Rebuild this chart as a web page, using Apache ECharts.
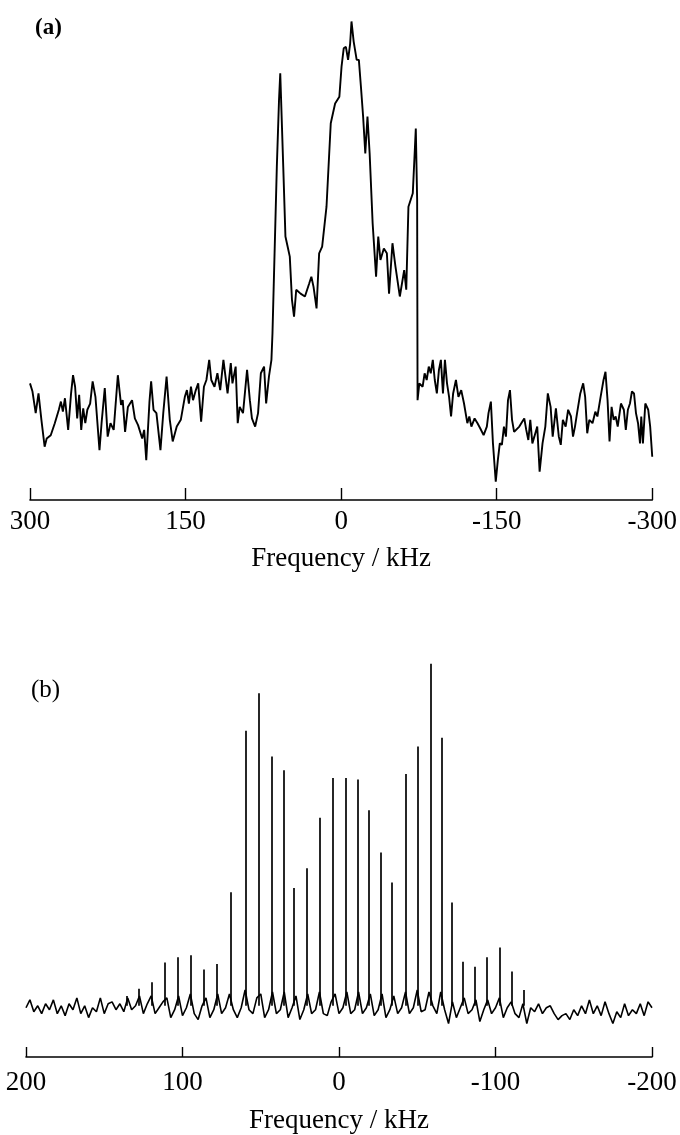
<!DOCTYPE html>
<html>
<head>
<meta charset="utf-8">
<script src="https://cdn.jsdelivr.net/npm/echarts/dist/echarts.min.js"></script>
<style>
  html, body { margin: 0; padding: 0; background: #fff; }
  #chart { width: 680px; height: 1135px; }
</style>
</head>
<body>
<div id="chart"></div>
<script>
// (a) static spectrum: frequency (kHz) and intensity (0 = axis line, 100 = top)
var freqA = [300.0, 297.6, 294.5, 291.8, 289.0, 285.9, 283.9, 280.0, 276.1, 272.2,
    270.2, 268.3, 266.3, 263.2, 260.4, 258.5, 256.5, 254.5, 252.6, 250.6,
    248.7, 246.7, 244.7, 242.0, 239.6, 236.9, 233.0, 231.0, 227.9, 225.1,
    222.4, 219.3, 215.3, 212.2, 210.6, 208.3, 205.6, 201.6, 198.9, 195.8,
    191.8, 189.9, 187.9, 184.8, 183.2, 180.9, 178.1, 174.2, 171.5, 168.3,
    165.2, 162.4, 158.5, 154.6, 150.7, 148.7, 146.8, 144.8, 142.8, 140.1,
    137.8, 135.0, 132.3, 129.9, 127.2, 125.2, 122.1, 119.3, 116.6, 113.5,
    111.5, 109.5, 106.4, 104.8, 101.7, 99.7, 97.8, 94.6, 90.7, 88.0,
    86.0, 82.9, 80.1, 77.4, 74.3, 72.3, 69.6, 67.2,
    66.2, 62.0, 59.9, 58.7, 55.8, 53.7, 51.6, 49.5, 47.4, 45.4,
    43.3, 39.1, 34.9, 30.8, 28.7, 26.6, 23.7, 21.2, 18.3, 14.1,
    10.0, 5.8, 1.7, -0.4, -2.5, -4.6, -6.7, -8.7, -10.0, -12.1,
    -15.0, -17.1, -19.1, -21.2, -23.3, -25.4, -27.5, -30.4, -33.7, -35.8,
    -37.9, -41.2, -44.1, -46.2, -49.5, -52.4, -56.6, -60.8, -62.8, -64.9,
    -69.1, -71.2, -72.0, -73.3, -73.7,
    -75.4, -78.6, -80.5, -82.5, -84.5, -86.4, -88.4, -90.3, -92.3, -94.3,
    -96.2, -98.2, -100.1, -102.1, -104.1, -106.0, -108.0, -110.7, -113.1, -115.8,
    -118.5, -121.7, -123.6, -125.6, -128.7, -131.5, -134.2, -137.4, -140.5, -142.1,
    -144.4, -146.4, -149.1, -151.1, -153.0, -155.0, -157.0, -158.9, -160.9, -162.8,
    -164.8, -166.8, -168.7, -171.8, -174.6, -176.6, -178.5, -180.5, -182.4, -184.4,
    -186.3, -189.1, -191.4, -194.2, -196.9, -199.3, -202.0, -204.0, -207.1, -209.9,
    -211.8, -213.8, -216.5, -218.9, -221.6, -223.6, -225.5, -227.5, -230.6, -233.4,
    -235.3, -237.3, -239.3, -242.4, -245.1, -247.1, -250.2, -253.0, -254.9, -256.9,
    -258.8, -260.8, -262.8, -264.7, -266.7, -269.8, -272.6, -274.5, -276.5, -278.5,
    -280.4, -282.4, -284.3, -286.3, -288.2, -289.4, -291.0, -293.3, -296.1, -298.0,
    -300.0];
var intA = [24.3, 22.6, 18.1, 22.2, 16.7, 11.1, 12.8, 13.5, 16.0, 18.8,
    20.5, 18.4, 21.2, 14.6, 22.2, 26.0, 23.6, 17.0, 21.9, 14.6,
    19.1, 16.0, 18.8, 20.1, 24.7, 21.5, 10.4, 16.0, 23.3, 13.2,
    16.0, 14.6, 26.0, 19.8, 20.8, 14.2, 19.4, 20.8, 17.0, 15.6,
    12.8, 14.6, 8.3, 20.5, 24.7, 18.8, 18.1, 10.4, 18.1, 25.7,
    16.7, 12.2, 15.3, 16.7, 21.5, 22.9, 20.1, 23.6, 20.8, 22.9,
    24.3, 16.3, 23.6, 25.0, 29.2, 25.0, 23.6, 26.4, 22.9, 29.2,
    25.7, 22.2, 28.5, 24.3, 27.8, 16.0, 19.4, 18.1, 27.1, 20.8,
    17.0, 15.3, 18.1, 26.4, 27.8, 20.1, 25.7, 29.2,
    34.7, 69.4, 83.3, 88.9, 69.4, 54.9, 52.8, 50.7, 41.7, 38.2,
    43.8, 43.0, 42.4, 45.1, 46.5, 44.4, 39.9, 51.4, 52.8, 61.1,
    78.5, 82.6, 84.0, 90.3, 94.1, 94.4, 91.7, 95.1, 99.7, 95.5,
    91.7, 91.7, 86.1, 79.9, 72.2, 79.9, 72.2, 57.6, 46.5, 54.9,
    50.0, 52.4, 51.4, 43.0, 53.5, 48.6, 42.4, 47.9, 43.8, 61.1,
    63.9, 73.6, 77.4, 62.5, 20.8,
    24.3, 23.6, 26.4, 25.0, 27.8, 26.4, 29.2, 25.0, 22.2, 27.1,
    29.2, 22.2, 29.2, 24.3, 21.5, 17.4, 22.2, 25.0, 21.5, 22.9,
    20.1, 16.0, 17.4, 15.3, 17.0, 16.0, 14.9, 13.5, 15.3, 18.1,
    20.5, 11.8, 3.8, 8.3, 11.8, 11.5, 15.3, 13.2, 20.8, 22.9,
    16.7, 14.2, 14.6, 15.3, 16.3, 17.0, 14.6, 12.5, 16.7, 11.8,
    13.2, 15.3, 5.9, 11.8, 15.3, 22.2, 19.4, 13.2, 19.1, 13.2,
    11.5, 16.7, 15.3, 18.8, 17.4, 13.2, 15.3, 18.1, 22.2, 24.3,
    21.5, 13.9, 16.7, 16.0, 18.4, 17.4, 21.5, 25.0, 26.7, 20.8,
    12.2, 19.4, 16.7, 17.4, 15.3, 20.1, 18.8, 14.6, 18.8, 20.1,
    22.6, 22.2, 18.1, 16.0, 11.8, 17.4, 11.8, 20.1, 18.8, 15.3,
    9.0];

// (b) MAS spectrum: baseline noise sampled every 2.5 kHz from +200 kHz
var noiseStartB = 200, noiseStepB = 2.5;
var noiseB = [12.5, 14.5, 11.5, 13, 11, 13.5, 12, 14.5, 11, 13,
    10.5, 13.5, 12, 15, 11, 13, 10, 12.5, 11.5, 15,
    11, 13.5, 14, 12, 13.5, 11.5, 15, 12, 13, 15.5,
    11, 13.5, 15.5, 11, 12.5, 14, 15, 10, 12, 15.5,
    10.5, 12.5, 16, 11, 9.5, 13, 15, 10, 12, 16,
    11, 12.5, 16, 12, 10, 12.5, 17, 12, 11, 15,
    16, 10, 12, 16.5, 11, 12, 16.5, 10, 12.5, 15.5,
    9.5, 12, 16, 11, 12, 16.5, 11, 10.5, 14, 16,
    11, 12.5, 16.5, 11, 12, 16.5, 11, 12.5, 16, 10.5,
    12, 16, 10, 12, 15.5, 11, 12.5, 16.5, 11, 12.5,
    17, 11.5, 12, 16.5, 13, 11, 16.5, 12, 8.5, 14,
    10, 12.5, 15, 11, 12, 14.5, 9, 12, 14.5, 11,
    12.5, 15, 10, 12.5, 14, 11, 10, 13.5, 8.5, 12.5,
    11.5, 13.5, 11, 12.5, 13, 11, 9.5, 10.5, 11, 9.5,
    12, 10.5, 13, 11, 14.5, 11, 13, 10.5, 14, 11,
    8.5, 11.5, 10, 13.5, 10.5, 12, 11, 13.5, 10.5, 14,
    12.5];
// spinning sidebands: position (kHz) and peak height
var peakFreqB = [135.5, 127.8, 119.5, 111.2, 102.8, 94.5, 86.4, 77.9, 69.0, 59.4,
    51.4, 43.1, 35.5, 28.7, 20.6, 12.1, 3.8, -4.3, -12.1, -19.1,
    -26.6, -34.0, -42.5, -50.1, -58.4, -65.8, -71.8, -79.2, -86.6, -94.5,
    -102.5, -110.4, -118.0];
var peakHeightB = [15.5, 17.3, 19.0, 24.0, 25.3, 25.8, 22.2, 23.6, 41.8, 82.8,
    92.3, 76.3, 72.8, 42.9, 47.9, 60.7, 70.8, 70.8, 70.4, 62.6,
    51.9, 44.3, 71.8, 78.8, 99.8, 81.0, 39.2, 24.2, 22.9, 25.3,
    27.8, 21.7, 17.0];
var baseB = 13;

var ticksA = [300, 150, 0, -150, -300];
var ticksB = [200, 100, 0, -100, -200];

var serif = 'Liberation Serif';

window.addEventListener('load', initChart);

function initChart() {
    var chart = echarts.init(document.getElementById('chart'));

    var lineA = freqA.map(function (f, i) { return [f, intA[i]]; });
    var lineB = noiseB.map(function (v, i) { return [noiseStartB - i * noiseStepB, v]; });
    var spikesB = peakFreqB.map(function (f, i) {
        return { coords: [[f, baseB], [f, peakHeightB[i]]] };
    });

    function freqAxis(idx, ticks, gap, margin) {
        return {
            gridIndex: idx,
            type: 'value',
            inverse: true,
            min: ticks[ticks.length - 1],
            max: ticks[0],
            interval: ticks[0] - ticks[1],
            name: 'Frequency / kHz',
            nameLocation: 'middle',
            nameGap: gap,
            nameTextStyle: { fontFamily: serif, fontSize: 27, color: '#000' },
            axisLine: { onZero: false, lineStyle: { color: '#000', width: 1.6 } },
            axisTick: { inside: true, length: idx === 0 ? 12 : 10, lineStyle: { color: '#000', width: 1.4 } },
            axisLabel: { fontFamily: serif, fontSize: 27, color: '#000', margin: margin,
                showMinLabel: true, showMaxLabel: true },
            splitLine: { show: false }
        };
    }

    var option = {
        animation: false,
        backgroundColor: '#fff',
        title: [
            { text: '(a)', left: 30, top: 12,
              textStyle: { fontFamily: serif, fontSize: 23, fontWeight: 'bold', color: '#000' } },
            { text: '(b)', left: 26, top: 673,
              textStyle: { fontFamily: serif, fontSize: 25, fontWeight: 'normal', color: '#000' } }
        ],
        grid: [
            { left: 30, right: 25, top: 20, height: 480 },
            { left: 26, right: 28, top: 663, height: 400 }
        ],
        xAxis: [
            freqAxis(0, ticksA, 45, 8),
            freqAxis(1, ticksB, 50, 12)
        ],
        yAxis: [
            { gridIndex: 0, type: 'value', min: 0, max: 100, show: false },
            { gridIndex: 1, type: 'value', min: 0, max: 100, show: false }
        ],
        series: [
            {
                name: 'a', type: 'line', xAxisIndex: 0, yAxisIndex: 0,
                data: lineA, showSymbol: false, silent: true,
                lineStyle: { color: '#000', width: 1.9 }
            },
            {
                name: 'b noise', type: 'line', xAxisIndex: 1, yAxisIndex: 1,
                data: lineB, showSymbol: false, silent: true,
                lineStyle: { color: '#000', width: 1.6 }
            },
            {
                name: 'b peaks', type: 'lines', coordinateSystem: 'cartesian2d',
                xAxisIndex: 1, yAxisIndex: 1, silent: true,
                data: spikesB,
                lineStyle: { color: '#000', width: 1.7, opacity: 1, curveness: 0 }
            }
        ]
    };

    chart.setOption(option);
}
</script>
</body>
</html>
